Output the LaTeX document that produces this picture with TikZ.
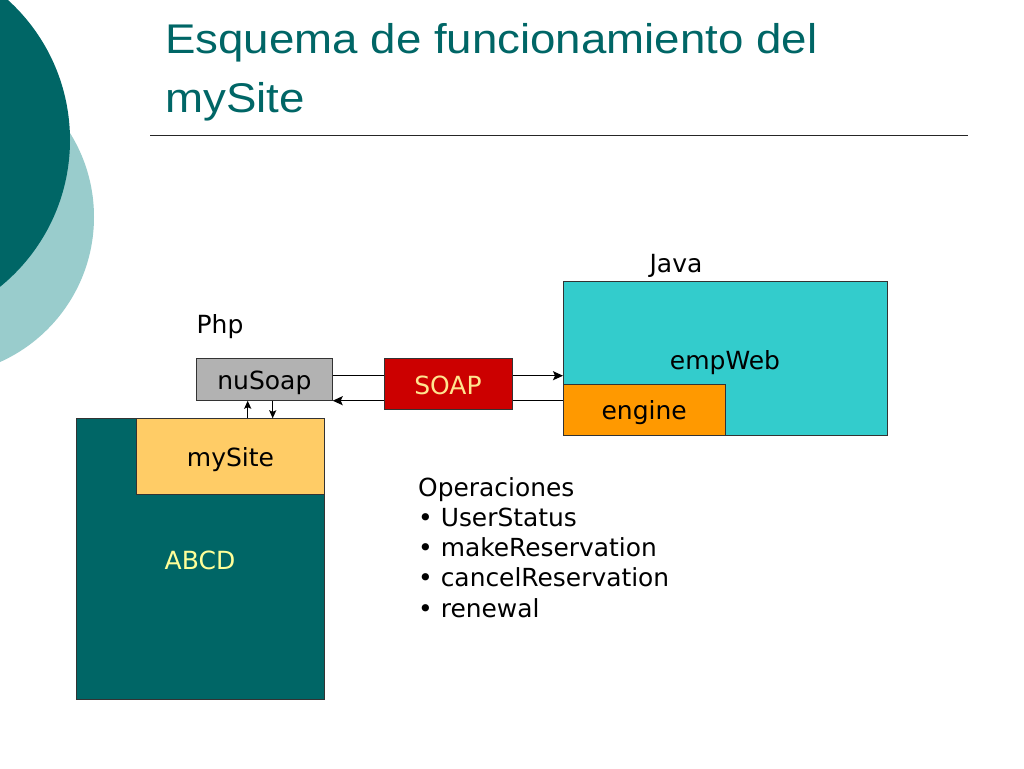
\documentclass[tikz,border=0pt]{standalone}
\usepackage{fontspec}
\setmainfont{DejaVu Sans}
\newfontfamily\titlefont[FakeStretch=1.1]{Liberation Sans}
\usetikzlibrary{arrows.meta}
\definecolor{tealdark}{HTML}{006666}
\definecolor{teallight}{HTML}{99CCCC}
\definecolor{cyanbox}{HTML}{33CCCC}
\definecolor{orangebox}{HTML}{FF9900}
\definecolor{graybox}{HTML}{B2B2B2}
\definecolor{redbox}{HTML}{CC0000}
\definecolor{yellowbox}{HTML}{FFCC66}
\definecolor{soaptext}{HTML}{FFE48F}
\definecolor{abcdtext}{HTML}{FFFF99}
\definecolor{edge}{HTML}{333333}
\begin{document}
\begin{tikzpicture}[x=1pt,y=-1pt,
  box/.style={draw=edge, line width=1pt, inner sep=0pt, outer sep=0pt, anchor=north west,
    font=\fontsize{25}{30}\selectfont, text height=22pt, text depth=1.4pt},
  lbl/.style={font=\fontsize{25}{30}\selectfont, inner sep=0pt, anchor=base},
  conn/.style={line width=1.3pt, draw=black, -{Stealth[length=10pt,width=9pt,inset=2pt]}},
  smallconn/.style={line width=1.4pt, draw=black, -{Stealth[length=8pt,width=7pt,inset=1.5pt]}}]
\useasboundingbox (0,0) rectangle (1024,768);
\fill[white] (0,0) rectangle (1024,768);
% background circles
\fill[teallight] (-64.8,217) circle (158.8pt);
\fill[tealdark] (-119,140) circle (189pt);
% title
\node[anchor=base west, inner sep=0pt, text=tealdark, font=\titlefont\fontsize{41.5}{50}\selectfont] (title1) at (165,54) {Esquema de funcionamiento del};
\node[anchor=base west, inner sep=0pt, text=tealdark, font=\titlefont\fontsize{41.5}{50}\selectfont] (title2) at (165,112) {mySite};
\coordinate (ruleL) at (150,135.5);
\coordinate (ruleR) at (968,135.5);
\draw[line width=1.6pt, black!85] (ruleL) -- (ruleR);
% Java side
\node[lbl] (java) at (676,272.7) {Java};
\node[box, fill=cyanbox, minimum width=324.5pt, minimum height=153.5pt] (empweb) at (563,281.5) {};
\node[lbl] (empwebtxt) at (725,369) {empWeb};
\node[box, fill=orangebox, minimum width=162.3pt, minimum height=51pt] (engine) at (563,384) {engine};
% Php side
\node[lbl] (php) at (220,333.3) {Php};
\node[box, fill=graybox, minimum width=136.7pt, minimum height=42.4pt] (nusoap) at (196,358.3) {nuSoap};
% connectors nuSoap <-> empWeb
\coordinate (t1) at ([yshift=3.8pt]nusoap.east);
\draw[conn] (t1) -- (t1 -| empweb.west);
\draw[conn] (nusoap.south east -| empweb.west) -- (nusoap.south east);
\node[box, fill=redbox, text=soaptext, minimum width=128pt, minimum height=51pt] (soap) at (384,358.3) {SOAP};
% ABCD and mySite
\node[box, fill=tealdark, minimum width=247.6pt, minimum height=280.7pt] (abcd) at (76.7,418.3) {};
\node[lbl, text=abcdtext] (abcdtxt) at (200,569.3) {ABCD};
\node[box, fill=yellowbox, minimum width=187.6pt, minimum height=76.4pt] (mysite) at (136.7,418.3) {mySite};
\coordinate (u1) at ([xshift=111pt]mysite.north west);
\coordinate (d1) at ([xshift=136pt]mysite.north west);
\draw[smallconn] (u1) -- (u1 |- nusoap.south);
\draw[smallconn] (d1 |- nusoap.south) -- (d1);
% operations
\node[anchor=base west, inner sep=0pt, align=left, font=\fontsize{24.9}{30.2}\selectfont] (ops) at (418,617) {Operaciones\\• UserStatus\\• makeReservation\\• cancelReservation\\• renewal};
\end{tikzpicture}
\end{document}
